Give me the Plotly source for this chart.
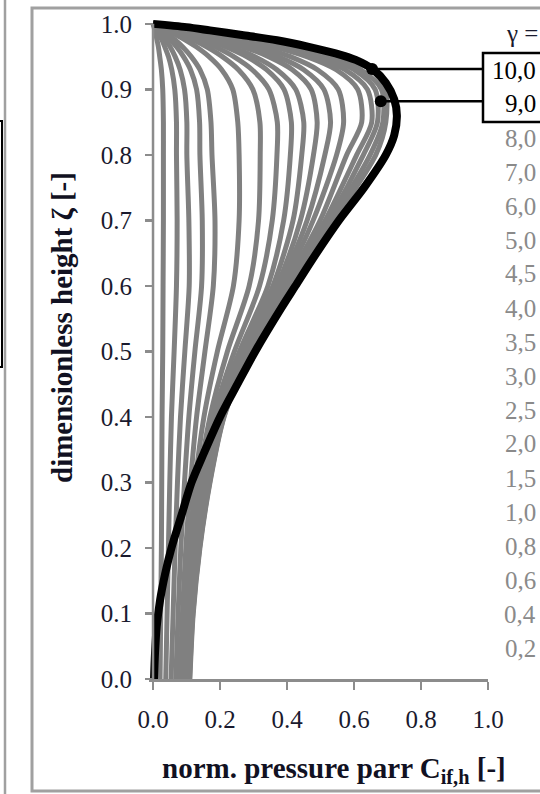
import plotly.graph_objects as go

# ---------------- data ----------------
ZETA = [0.0, 0.1, 0.2, 0.3, 0.4, 0.5, 0.6, 0.7, 0.8, 0.85, 0.9, 0.93, 0.95,
        0.965, 0.975, 0.985, 0.993, 1.0]

GAMMA_LABELS = ["0,2", "0,4", "0,6", "0,8", "1,0", "1,5", "2,0", "2,5", "3,0",
                "3,5", "4,0", "4,5", "5,0", "6,0", "7,0", "8,0", "9,0", "10,0"]

p_g02 = [0.021, 0.023, 0.025, 0.026, 0.027, 0.029, 0.030, 0.031, 0.031, 0.031, 0.029, 0.025, 0.020, 0.016, 0.012, 0.008, 0.004, 0.0]
p_g04 = [0.038, 0.042, 0.046, 0.050, 0.055, 0.063, 0.070, 0.072, 0.070, 0.070, 0.065, 0.056, 0.046, 0.035, 0.027, 0.017, 0.008, 0.0]
p_g06 = [0.054, 0.060, 0.066, 0.073, 0.082, 0.095, 0.108, 0.107, 0.101, 0.101, 0.094, 0.081, 0.066, 0.051, 0.038, 0.025, 0.012, 0.0]
p_g08 = [0.068, 0.075, 0.083, 0.094, 0.107, 0.125, 0.145, 0.147, 0.140, 0.139, 0.130, 0.112, 0.091, 0.070, 0.053, 0.034, 0.017, 0.0]
p_g10 = [0.080, 0.088, 0.098, 0.112, 0.130, 0.155, 0.180, 0.185, 0.176, 0.173, 0.162, 0.140, 0.114, 0.088, 0.067, 0.043, 0.021, 0.0]
p_g15 = [0.090, 0.099, 0.110, 0.126, 0.152, 0.192, 0.240, 0.257, 0.257, 0.253, 0.238, 0.205, 0.167, 0.129, 0.098, 0.062, 0.031, 0.0]
p_g20 = [0.092, 0.102, 0.118, 0.137, 0.170, 0.222, 0.287, 0.315, 0.320, 0.319, 0.298, 0.255, 0.207, 0.160, 0.122, 0.077, 0.038, 0.0]
p_g25 = [0.094, 0.104, 0.121, 0.145, 0.180, 0.243, 0.318, 0.356, 0.370, 0.371, 0.346, 0.296, 0.241, 0.186, 0.141, 0.090, 0.044, 0.0]
p_g30 = [0.097, 0.107, 0.124, 0.149, 0.187, 0.258, 0.343, 0.390, 0.410, 0.413, 0.391, 0.339, 0.279, 0.216, 0.165, 0.106, 0.052, 0.0]
p_g35 = [0.099, 0.109, 0.127, 0.152, 0.192, 0.265, 0.358, 0.418, 0.444, 0.450, 0.426, 0.370, 0.304, 0.235, 0.180, 0.115, 0.057, 0.0]
p_g40 = [0.101, 0.111, 0.129, 0.155, 0.196, 0.270, 0.370, 0.440, 0.479, 0.490, 0.472, 0.416, 0.345, 0.269, 0.206, 0.133, 0.066, 0.0]
p_g45 = [0.103, 0.113, 0.131, 0.158, 0.199, 0.275, 0.378, 0.460, 0.513, 0.530, 0.510, 0.450, 0.373, 0.291, 0.223, 0.144, 0.071, 0.0]
p_g50 = [0.104, 0.114, 0.133, 0.161, 0.202, 0.279, 0.386, 0.478, 0.548, 0.569, 0.553, 0.491, 0.410, 0.321, 0.247, 0.158, 0.078, 0.0]
p_g60 = [0.106, 0.116, 0.135, 0.164, 0.205, 0.283, 0.394, 0.499, 0.578, 0.623, 0.611, 0.547, 0.459, 0.361, 0.279, 0.180, 0.089, 0.0]
p_g70 = [0.107, 0.117, 0.137, 0.166, 0.207, 0.285, 0.399, 0.514, 0.608, 0.653, 0.640, 0.573, 0.481, 0.379, 0.293, 0.189, 0.094, 0.0]
p_g80 = [0.108, 0.118, 0.138, 0.168, 0.209, 0.287, 0.402, 0.525, 0.628, 0.670, 0.663, 0.600, 0.506, 0.400, 0.310, 0.201, 0.100, 0.0]
p_g90 = [0.109, 0.119, 0.139, 0.169, 0.211, 0.289, 0.405, 0.533, 0.648, 0.686, 0.682, 0.621, 0.529, 0.421, 0.326, 0.212, 0.106, 0.0]
p_g100 = [0.110, 0.120, 0.140, 0.170, 0.212, 0.290, 0.408, 0.540, 0.665, 0.695, 0.694, 0.652, 0.556, 0.442, 0.344, 0.224, 0.112, 0.0]

GRAY_SERIES = [p_g02, p_g04, p_g06, p_g08, p_g10, p_g15, p_g20, p_g25, p_g30,
               p_g35, p_g40, p_g45, p_g50, p_g60, p_g70, p_g80, p_g90, p_g100]

BLACK_ZETA = [0.0, 0.04, 0.08, 0.12, 0.16, 0.2, 0.25, 0.3, 0.345, 0.4, 0.45, 0.5,
              0.568, 0.6, 0.64, 0.7, 0.75, 0.8, 0.83, 0.86, 0.885, 0.91, 0.93,
              0.945, 0.955, 0.965, 0.975, 0.983, 0.99, 0.995, 1.0]
BLACK_P = [0.003, 0.006, 0.011, 0.021, 0.036, 0.055, 0.085, 0.115, 0.152, 0.200,
           0.252, 0.305, 0.385, 0.425, 0.475, 0.555, 0.630, 0.695, 0.720, 0.728,
           0.720, 0.695, 0.658, 0.605, 0.545, 0.465, 0.370, 0.265, 0.170, 0.100, 0.0]

# highlighted points (gamma = 10,0 and 9,0)
DOT_P = [0.654, 0.680]
DOT_ZETA = [0.931, 0.882]

X_TICKS = [0.0, 0.2, 0.4, 0.6, 0.8, 1.0]
Y_TICKS = [0.0, 0.1, 0.2, 0.3, 0.4, 0.5, 0.6, 0.7, 0.8, 0.9, 1.0]

# ---------------- figure ----------------
W, H = 540, 794
ML, MR, MT, MB = 149, 52, 16, 115
PW, PH = W - ML - MR, H - MT - MB  # 339 x 663


def px2paper_x(px):
    return (px - ML) / PW


def px2paper_y(py):
    return (H - MB - py) / PH


SERIF = "Liberation Serif, Times New Roman, serif"
GRAY = "#808080"

fig = go.Figure()

for vals in GRAY_SERIES:
    fig.add_trace(go.Scatter(
        x=vals, y=ZETA, mode="lines",
        line=dict(color=GRAY, width=5, shape="spline", smoothing=0.8),
        hoverinfo="skip", showlegend=False))

fig.add_trace(go.Scatter(
    x=BLACK_P, y=BLACK_ZETA, mode="lines",
    line=dict(color="black", width=8, shape="spline", smoothing=0.8),
    hoverinfo="skip", showlegend=False))

fig.add_trace(go.Scatter(
    x=DOT_P, y=DOT_ZETA, mode="markers",
    marker=dict(color="black", size=12),
    hoverinfo="skip", showlegend=False))

shapes = []
# y axis line drawn as a shape (from 0 to 1)
shapes.append(dict(type="line", xref="x", yref="y", x0=0, x1=0, y0=0, y1=1.0,
                   line=dict(color="#8c8c8c", width=2.5), layer="above"))
# leader lines from dots to the label box
box_left_data = (483 - 153) / 335
for p, z in zip(DOT_P, DOT_ZETA):
    shapes.append(dict(type="line", xref="x", yref="y", x0=p, x1=box_left_data,
                       y0=z, y1=z, line=dict(color="black", width=2.5)))
# box around 10,0 / 9,0
shapes.append(dict(type="rect", xref="paper", yref="paper",
                   x0=px2paper_x(483), x1=px2paper_x(570),
                   y0=px2paper_y(122), y1=px2paper_y(53),
                   line=dict(color="black", width=2.5)))
# outer frame of the panel
shapes.append(dict(type="rect", xref="paper", yref="paper",
                   x0=px2paper_x(32), x1=px2paper_x(580),
                   y0=px2paper_y(791), y1=px2paper_y(8),
                   line=dict(color="#a0a0a0", width=3)))
# remnant of neighbouring panel on the far left
shapes.append(dict(type="line", xref="paper", yref="paper",
                   x0=px2paper_x(5), x1=px2paper_x(5),
                   y0=px2paper_y(800), y1=px2paper_y(-5),
                   line=dict(color="#a0a0a0", width=2.5)))
shapes.append(dict(type="rect", xref="paper", yref="paper",
                   x0=px2paper_x(-20), x1=px2paper_x(2),
                   y0=px2paper_y(367), y1=px2paper_y(121),
                   line=dict(color="black", width=2)))

annotations = []
# gamma labels on the right, top to bottom: 10,0 ... 0,2
annotations.append(dict(text="γ =", xref="paper", yref="paper",
                        x=px2paper_x(540), y=px2paper_y(33), xanchor="right",
                        yanchor="middle", showarrow=False,
                        font=dict(family=SERIF, size=25, color="#1a1a2e")))
for i, lab in enumerate(reversed(GAMMA_LABELS)):
    col = "black" if lab in ("10,0", "9,0") else "#8a8a8a"
    annotations.append(dict(text=lab, xref="paper", yref="paper",
                            x=px2paper_x(538), y=px2paper_y(70 + i * 34.0),
                            xanchor="right", yanchor="middle", showarrow=False,
                            font=dict(family=SERIF, size=25, color=col)))
# axis titles
annotations.append(dict(text="<b>dimensionless height ζ [-]</b>", xref="paper",
                        yref="paper", x=px2paper_x(62), y=px2paper_y(328),
                        textangle=-90, showarrow=False, xanchor="center",
                        yanchor="middle",
                        font=dict(family=SERIF, size=29, color="#111122")))
annotations.append(dict(text="<b>norm. pressure parr C<sub>if,h</sub> [-]</b>",
                        xref="paper", yref="paper", x=px2paper_x(334),
                        y=px2paper_y(770), showarrow=False, xanchor="center",
                        yanchor="middle",
                        font=dict(family=SERIF, size=29, color="#111122")))

fig.update_layout(
    width=W, height=H,
    margin=dict(l=ML, r=MR, t=MT, b=MB, pad=0),
    paper_bgcolor="white", plot_bgcolor="white",
    shapes=shapes, annotations=annotations,
    showlegend=False,
    xaxis=dict(range=[-0.012, 1.0], tickvals=X_TICKS,
               ticktext=[f"{v:.1f}" for v in X_TICKS],
               showgrid=False, zeroline=False, showline=True,
               linecolor="#8c8c8c", linewidth=2.5,
               ticks="outside", ticklen=8, tickwidth=2.5, tickcolor="#8c8c8c",
               ticklabelstandoff=8,
               tickfont=dict(family=SERIF, size=25, color="#1a1a2e")),
    yaxis=dict(range=[0, 1.012], tickvals=Y_TICKS,
               ticktext=[f"{v:.1f}" for v in Y_TICKS],
               anchor="free", position=(153 - ML) / PW,
               showgrid=False, zeroline=False, showline=False,
               ticks="outside", ticklen=8, tickwidth=2.5, tickcolor="#8c8c8c",
               ticklabelstandoff=8,
               tickfont=dict(family=SERIF, size=25, color="#1a1a2e")),
)

fig.write_html(
    "out.html",
    config={"displayModeBar": False, "staticPlot": True},
    post_script="document.body.style.margin='0';document.body.style.overflow='hidden';",
)
